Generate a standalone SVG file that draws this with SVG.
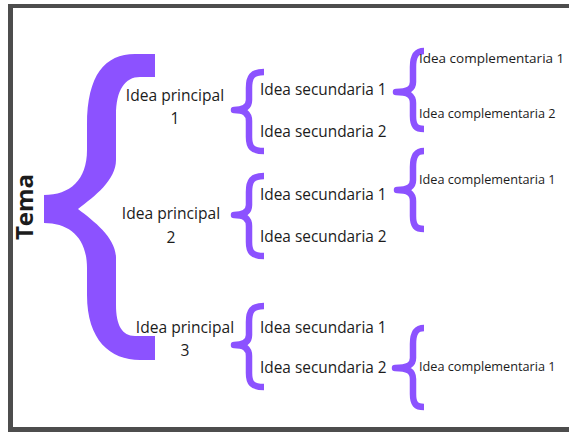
<svg xmlns="http://www.w3.org/2000/svg" width="569" height="432" viewBox="0 0 569 432">
<style>
.t{font-family:"Open Sans","Noto Sans","Liberation Sans",sans-serif;fill:#1c1c1c}
.p{font-size:15.6px;text-anchor:middle}
.s{font-size:15.4px}
.c{font-size:12.7px}
.b{fill:none;stroke:#8c52ff;stroke-width:6.5;stroke-linecap:butt;stroke-linejoin:round}
</style>
<rect x="0" y="0" width="569" height="432" fill="#ffffff"/>
<rect x="8" y="4" width="561" height="428" fill="#4d4d4d"/>
<rect x="13" y="8" width="556" height="419" fill="#ffffff"/>
<g id="connectors">
<path id="brace-main" fill="#8c52ff" d="M155,54 L135,54 C105,54 87,75 87,125 L87,150 C87,180 70,195 44,195 L44,223 C70,223 87,238 87,268 L87,295 C87,340 110,360 140,360 L155,360 L155,336 L135,336 C122,336 116,325 116,305 L116,258 C116,238 95,222 78,209 C95,196 116,180 116,160 L116,115 C116,90 125,77 140,77 L155,77 Z"/>
<path class="b" d="M264,72 C252,72 249,77 249,88 L249,100 C249,107 244,110 234,110 C244,110 249,113 249,121 L249,137 C249,147 252,151 264,151"/>
<path class="b" d="M264,176 C252,176 249,181 249,192 L249,205 C249,212 244,215 234,215 C244,215 249,218 249,226 L249,242 C249,252 252,256 264,256"/>
<path class="b" d="M264,306 C252,306 249,311 249,322 L249,335 C249,342 244,345 234,345 C244,345 249,348 249,356 L249,373 C249,383 252,387 264,387"/>
<path class="b" d="M424,51 C416,51 413,56 413,67 L413,82 C413,89 408,92 396,92 C408,92 413,95 413,103 L413,116 C413,126 416,129 424,129"/>
<path class="b" d="M424,151 C416,151 413,156 413,167 L413,180 C413,187 408,190 397,190 C408,190 413,193 413,201 L413,216 C413,226 416,229 424,229"/>
<path class="b" d="M424,328 C416,328 413,333 413,344 L413,358 C413,365 408,368 395,368 C408,368 413,371 413,379 L413,394 C413,404 416,407 424,407"/>
</g>
<g id="tema"><text class="t" font-size="24" font-weight="700" text-anchor="middle" transform="translate(33,207) rotate(-90)">Tema</text></g>
<g id="ip1"><text class="t p" x="175" y="101">Idea principal</text><text class="t p" x="175" y="124">1</text></g>
<g id="ip2"><text class="t p" x="171" y="219">Idea principal</text><text class="t p" x="171" y="243">2</text></g>
<g id="ip3"><text class="t p" x="185" y="333">Idea principal</text><text class="t p" x="185" y="356">3</text></g>
<g id="s11"><text class="t s" x="260" y="95">Idea secundaria 1</text></g>
<g id="s12"><text class="t s" x="260" y="137">Idea secundaria 2</text></g>
<g id="s21"><text class="t s" x="260" y="200">Idea secundaria 1</text></g>
<g id="s22"><text class="t s" x="260" y="242">Idea secundaria 2</text></g>
<g id="s31"><text class="t s" x="260" y="333">Idea secundaria 1</text></g>
<g id="s32"><text class="t s" x="260" y="373">Idea secundaria 2</text></g>
<g id="c11"><text class="t" font-size="13.5" x="419" y="63">Idea complementaria 1</text></g>
<g id="c12"><text class="t c" x="419" y="118">Idea complementaria 2</text></g>
<g id="c21"><text class="t c" x="419" y="184">Idea complementaria 1</text></g>
<g id="c31"><text class="t c" x="419" y="371">Idea complementaria 1</text></g>
</svg>
